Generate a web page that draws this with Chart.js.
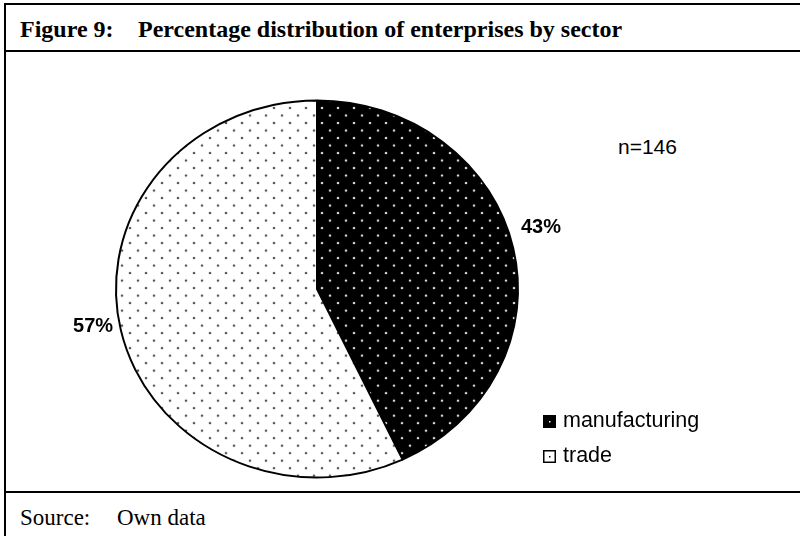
<!DOCTYPE html>
<html>
<head>
<meta charset="utf-8">
<script src="https://cdn.jsdelivr.net/npm/chart.js@4.4.1/dist/chart.umd.min.js"></script>
<style>
  html, body { margin: 0; padding: 0; background: #fff; }
  body { width: 800px; height: 536px; position: relative; overflow: hidden; }
  .rule { position: absolute; background: #000; }
  .txt { position: absolute; white-space: nowrap; color: #000; line-height: 1; }
  .title { font: bold 24px "Liberation Serif", "Times New Roman", serif; line-height: 1; top: 17px; }
  .source { font: 23px "Liberation Serif", "Times New Roman", serif; line-height: 1; top: 506px; }
  .note { font: 21px "Liberation Sans", Arial, sans-serif; line-height: 1; left: 618px; top: 136px; }
  #wrap { position: absolute; left: 6px; top: 52px; width: 794px; height: 439px; }
</style>
</head>
<body>
<div class="rule" style="left:4px; top:3px; width:796px; height:2px;"></div>
<div class="rule" style="left:4px; top:3px; width:2px; height:533px;"></div>
<div class="rule" style="left:4px; top:50px; width:796px; height:2px;"></div>
<div class="rule" style="left:4px; top:491px; width:796px; height:2px;"></div>

<div class="txt title" style="left:20px;">Figure 9:</div>
<div class="txt title" style="left:138px;">Percentage distribution of enterprises by sector</div>
<div class="txt note">n=146</div>
<div class="txt source" style="left:20px;">Source:</div>
<div class="txt source" style="left:117px;">Own data</div>

<div id="wrap"><canvas id="chart" width="794" height="439"></canvas></div>

<script>
const categories = ['manufacturing', 'trade'];
const shares = [43, 57];
const shareLabels = ['43%', '57%'];

// the original pie is a bit flatter than it is wide
const squash = 0.938;

function dotPattern(bg, dot) {
    const tile = document.createElement('canvas');
    tile.width = 16;
    tile.height = 16;
    const c = tile.getContext('2d');
    c.fillStyle = bg;
    c.fillRect(0, 0, 16, 16);
    c.fillStyle = dot;
    [[4, 4], [12, 12]].forEach(p => {
        c.beginPath();
        c.arc(p[0], p[1], 1.3, 0, Math.PI * 2);
        c.fill();
    });
    return c.createPattern(tile, 'repeat');
}

const fills = [dotPattern('#000', '#d8d8d8'), dotPattern('#fff', '#555')];
const solid = ['#000', '#fff'];
const dotColors = ['#fff', '#000'];

const squashPie = {
    id: 'squashPie',
    beforeDatasetsDraw(chart) {
        const arc = chart.getDatasetMeta(0).data[0];
        const ctx = chart.ctx;
        ctx.save();
        ctx.translate(arc.x, arc.y);
        ctx.scale(1, squash);
        ctx.translate(-arc.x, -arc.y);
    },
    afterDatasetsDraw(chart) {
        chart.ctx.restore();
    }
};

// labels sit just outside the rim, the text box corner touching it
const sliceLabels = {
    id: 'sliceLabels',
    afterDraw(chart) {
        const ctx = chart.ctx;
        ctx.save();
        ctx.font = 'bold 20px "Liberation Sans", Arial, sans-serif';
        ctx.fillStyle = '#000';
        ctx.textBaseline = 'middle';
        chart.getDatasetMeta(0).data.forEach((arc, i) => {
            const p = arc.getProps(['x', 'y', 'startAngle', 'endAngle', 'outerRadius'], true);
            const mid = (p.startAngle + p.endAngle) / 2;
            const r = p.outerRadius + 8;
            const sin = Math.sin(mid);
            const x = p.x + Math.cos(mid) * r;
            const y = p.y + sin * r * squash + Math.sign(sin) * 7 - 12;
            ctx.textAlign = Math.cos(mid) >= 0 ? 'left' : 'right';
            ctx.fillText(shareLabels[i], x, y);
        });
        ctx.restore();
    }
};

const boxLegend = {
    id: 'boxLegend',
    afterDraw(chart) {
        const ctx = chart.ctx;
        const left = 537, top = 363, size = 13, rowGap = 35;
        ctx.save();
        ctx.font = '21.5px "Liberation Sans", Arial, sans-serif';
        ctx.textBaseline = 'alphabetic';
        ctx.textAlign = 'left';
        chart.data.labels.forEach((label, i) => {
            const y = top + i * rowGap;
            ctx.fillStyle = solid[i];
            ctx.fillRect(left, y, size, size);
            ctx.lineWidth = 1.5;
            ctx.strokeStyle = '#000';
            ctx.strokeRect(left + 0.75, y + 0.75, size - 1.5, size - 1.5);
            ctx.fillStyle = dotColors[i];
            ctx.fillRect(left + 6, y + 6, 1.5, 1.5);
            ctx.fillStyle = '#000';
            ctx.fillText(label, left + 20, y + 12);
        });
        ctx.restore();
    }
};

new Chart(document.getElementById('chart'), {
    type: 'pie',
    data: {
        labels: categories,
        datasets: [{
            data: shares,
            backgroundColor: fills,
            borderColor: '#000',
            borderWidth: 2,
            borderAlign: 'center'
        }]
    },
    options: {
        responsive: false,
        animation: false,
        devicePixelRatio: 1,
        layout: { padding: { left: 109, right: 281, top: 35, bottom: 0 } },
        plugins: {
            legend: { display: false },
            tooltip: { enabled: false }
        }
    },
    plugins: [squashPie, sliceLabels, boxLegend]
});
</script>
</body>
</html>
